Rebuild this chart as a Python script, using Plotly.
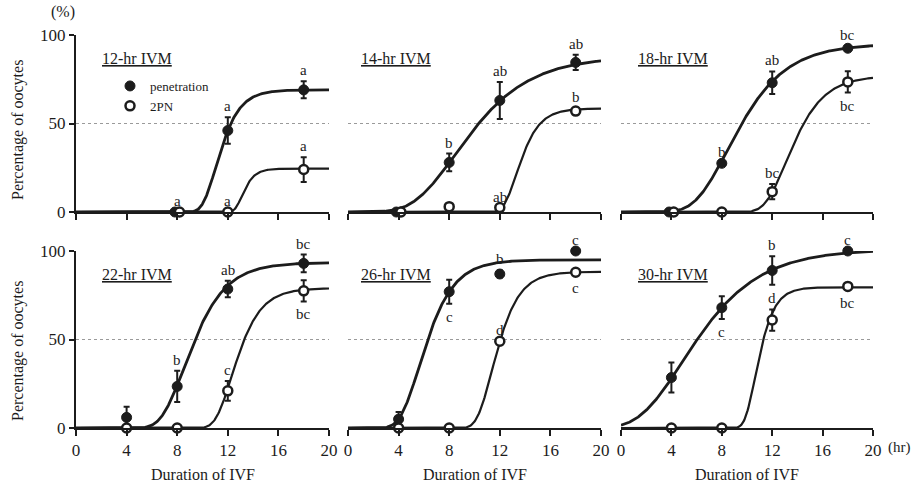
import numpy as np
import plotly.graph_objects as go

# ---------------- data ----------------
ivm_labels = ["12-hr IVM", "14-hr IVM", "18-hr IVM", "22-hr IVM", "26-hr IVM", "30-hr IVM"]
ivf_hours = [4, 8, 12, 18]
x_ticks = [0, 4, 8, 12, 16, 20]
y_ticks = [0, 50, 100]

# penetration (%), mean and SEM per IVM group at IVF hours 4, 8, 12, 18
pen_mean = [
    [None, 0, 46, 69],
    [0, 28, 63, 84.5],
    [0, 27.5, 73, 92.5],
    [6, 23.5, 78.5, 93],
    [5, 77, 87, 100],
    [28.5, 68, 89, 100],
]
pen_sem = [
    [None, 0, 7.5, 4.8],
    [0, 5, 10.5, 4.3],
    [0, 0, 6.4, 1.5],
    [6, 8.8, 4.7, 5],
    [4, 6.8, 2, 0],
    [8.5, 6.4, 8, 0],
]
# 2PN (%)
pn_mean = [
    [None, 0, 0, 24],
    [0, 3, 2.5, 57],
    [0, 0, 11.5, 73.5],
    [0, 0, 21, 77.5],
    [0, 0, 49, 88],
    [0, 0, 61, 80],
]
pn_sem = [
    [None, 0, 0, 7],
    [0, 0, 0, 2],
    [0, 0, 4.3, 6],
    [0, 0, 5.6, 6],
    [0, 0, 0, 1.5],
    [0, 0, 6, 2],
]
# significance letters
pen_letters = [
    ["", "a", "a", "a"],
    ["", "b", "ab", "ab"],
    ["", "b", "ab", "bc"],
    ["", "b", "ab", "bc"],
    ["", "c", "b", "c"],
    ["", "c", "b", "c"],
]
pn_letters = [
    ["", "", "a", "a"],
    ["", "", "ab", "b"],
    ["", "", "bc", "bc"],
    ["", "", "c", "bc"],
    ["", "", "d", "c"],
    ["", "", "d", "bc"],
]
# fitted Gompertz curve parameters: (plateau, rate, midpoint)
pen_fit = [
    (69, 0.95, 11.05),
    (88, 0.305, 8.46),
    (95, 0.3875, 8.45),
    (93.5, 0.55, 8.55),
    (95, 0.6585, 5.63),
    (101, 0.294, 4.85),
]
pn_fit = [
    (24.5, 1.76, 13.11),
    (58.5, 0.984, 13.32),
    (77, 0.6, 13.1),
    (79, 0.78, 12.3),
    (88.3, 0.841, 11.38),
    (79.5, 1.2, 10.66),
]

# ---------------- style / layout ----------------
W, H = 914, 484
FONT = "Liberation Serif"
INK = "#1c1c1c"
col_px = [(76, 329), (348, 601), (621, 873)]
row_px = [(35, 212), (251, 428)]
title_left_px = [100, 359, 636]
# letter placement: 1 above, -1 below
pen_place = [[1, 1, 1, 1]] * 4 + [[1, -1, 1, 1]] * 2
pn_place = [[1, 1, 1, 1]] * 2 + [[1, 1, 1, -1]] * 4


def gompertz(x, top, rate, mid):
    return top * np.exp(-np.exp(-rate * (x - mid)))


fig = go.Figure()
layout = dict(
    width=W, height=H, margin=dict(l=0, r=0, t=0, b=0, pad=0, autoexpand=False),
    paper_bgcolor="white", plot_bgcolor="white",
    font=dict(family=FONT, color=INK, size=16),
    showlegend=True,
)
annotations = []
shapes = []
xs = np.linspace(0, 20, 401)

for i in range(6):
    r, c = divmod(i, 3)
    sfx = "" if i == 0 else str(i + 1)
    xa, ya = "x" + sfx, "y" + sfx
    x0p, x1p = col_px[c]
    y0p, y1p = row_px[r]
    layout["xaxis" + sfx] = dict(
        domain=[x0p / W, x1p / W], anchor=ya, range=[0, 20], automargin=False,
        tickvals=x_ticks, ticks="outside", ticklen=6, tickwidth=1.5, tickcolor=INK,
        showline=True, linewidth=2, linecolor=INK, showgrid=False, zeroline=False,
        showticklabels=(r == 1), tickfont=dict(family=FONT, size=17, color=INK),
        fixedrange=True,
    )
    layout["yaxis" + sfx] = dict(
        domain=[1 - y1p / H, 1 - y0p / H], anchor=xa, range=[0, 100], automargin=False,
        tickvals=y_ticks, ticks="outside", ticklen=5, tickwidth=1.5, tickcolor=INK,
        showline=(c == 0), linewidth=2, linecolor=INK, showgrid=False, zeroline=False,
        showticklabels=(c == 0), visible=(c == 0),
        tickfont=dict(family=FONT, size=17, color=INK), fixedrange=True,
    )
    # 50% reference line
    shapes.append(dict(type="line", xref=xa + " domain", yref=ya, x0=0, x1=1, y0=50, y1=50,
                       line=dict(color="#9a9a9a", width=1, dash="dot"), layer="below"))
    # fitted curves
    fig.add_trace(go.Scatter(x=xs, y=gompertz(xs, *pen_fit[i]), mode="lines",
                             line=dict(color=INK, width=2.8), xaxis=xa, yaxis=ya,
                             showlegend=False, hoverinfo="skip", cliponaxis=False))
    fig.add_trace(go.Scatter(x=xs, y=gompertz(xs, *pn_fit[i]), mode="lines",
                             line=dict(color=INK, width=2.2), xaxis=xa, yaxis=ya,
                             showlegend=False, hoverinfo="skip", cliponaxis=False))
    # points
    px_pen, py_pen, pe_pen, pm_pen = [], [], [], []
    px_pn, py_pn, pe_pn, pm_pn = [], [], [], []
    for j, h in enumerate(ivf_hours):
        a, b = pen_mean[i][j], pn_mean[i][j]
        if a is None:
            continue
        dx = 0.18 if (a == 0 and b == 0) else 0.0
        px_pen.append(h - dx); py_pen.append(a)
        pe_pen.append(pen_sem[i][j]); pm_pen.append(min(pen_sem[i][j], a))
        px_pn.append(h + dx); py_pn.append(b)
        pe_pn.append(pn_sem[i][j]); pm_pn.append(min(pn_sem[i][j], b))
        # letters
        for val, err, lab, pl in ((a, pen_sem[i][j], pen_letters[i][j], pen_place[i][j]),
                                  (b, pn_sem[i][j], pn_letters[i][j], pn_place[i][j])):
            if not lab:
                continue
            if pl > 0:
                annotations.append(dict(x=h, y=val + err, xref=xa, yref=ya, text=lab,
                                        showarrow=False, yanchor="bottom", yshift=1,
                                        font=dict(family=FONT, size=15, color=INK)))
            else:
                annotations.append(dict(x=h, y=val - min(err, val), xref=xa, yref=ya, text=lab,
                                        showarrow=False, yanchor="top", yshift=-3,
                                        font=dict(family=FONT, size=15, color=INK)))
    fig.add_trace(go.Scatter(
        x=px_pen, y=py_pen, mode="markers", name="penetration", xaxis=xa, yaxis=ya,
        marker=dict(symbol="circle", size=10, color=INK, line=dict(color=INK, width=1)),
        error_y=dict(type="data", array=pe_pen, arrayminus=pm_pen, color=INK, thickness=2, width=3),
        showlegend=(i == 0), legendrank=1, cliponaxis=False))
    fig.add_trace(go.Scatter(
        x=px_pn, y=py_pn, mode="markers", name="2PN", xaxis=xa, yaxis=ya,
        marker=dict(symbol="circle", size=9, color="white", line=dict(color=INK, width=2.5)),
        error_y=dict(type="data", array=pe_pn, arrayminus=pm_pn, color=INK, thickness=2, width=3),
        showlegend=(i == 0), legendrank=2, cliponaxis=False))
    # panel title (underlined)
    annotations.append(dict(x=title_left_px[c] / W, xref="paper", xanchor="left",
                            y=0.87, yref=ya + " domain", yanchor="middle",
                            text="<u>" + ivm_labels[i] + "</u>", showarrow=False,
                            font=dict(family=FONT, size=16, color=INK)))
    if r == 1:
        annotations.append(dict(x=0.5, xref=xa + " domain", y=1 - 474 / H, yref="paper",
                                text="Duration of IVF", showarrow=False, yanchor="middle",
                                font=dict(family=FONT, size=16, color=INK)))
    if c == 0:
        annotations.append(dict(x=18 / W, xref="paper", y=1 - (130 if r == 0 else 351) / H,
                                yref="paper", text="Percentage of oocytes", textangle=-90,
                                showarrow=False, xanchor="center", yanchor="middle",
                                font=dict(family=FONT, size=16, color=INK)))

annotations.append(dict(x=49 / W, y=1 - 12 / H, xref="paper", yref="paper", text="(%)",
                        showarrow=False, yanchor="middle",
                        font=dict(family=FONT, size=16, color=INK)))
annotations.append(dict(x=913 / W, y=1 - 447 / H, xref="paper", yref="paper", text="(hr)",
                        showarrow=False, yanchor="middle", xanchor="right",
                        font=dict(family=FONT, size=15, color=INK)))

layout["annotations"] = annotations
layout["shapes"] = shapes
layout["legend"] = dict(x=(130 - 20) / W, y=1 - 71 / H, xanchor="left", yanchor="top",
                        bgcolor="rgba(0,0,0,0)", font=dict(family=FONT, size=13, color=INK),
                        itemwidth=30, tracegroupgap=0)
fig.update_layout(**layout)
fig.write_html("out.html")
